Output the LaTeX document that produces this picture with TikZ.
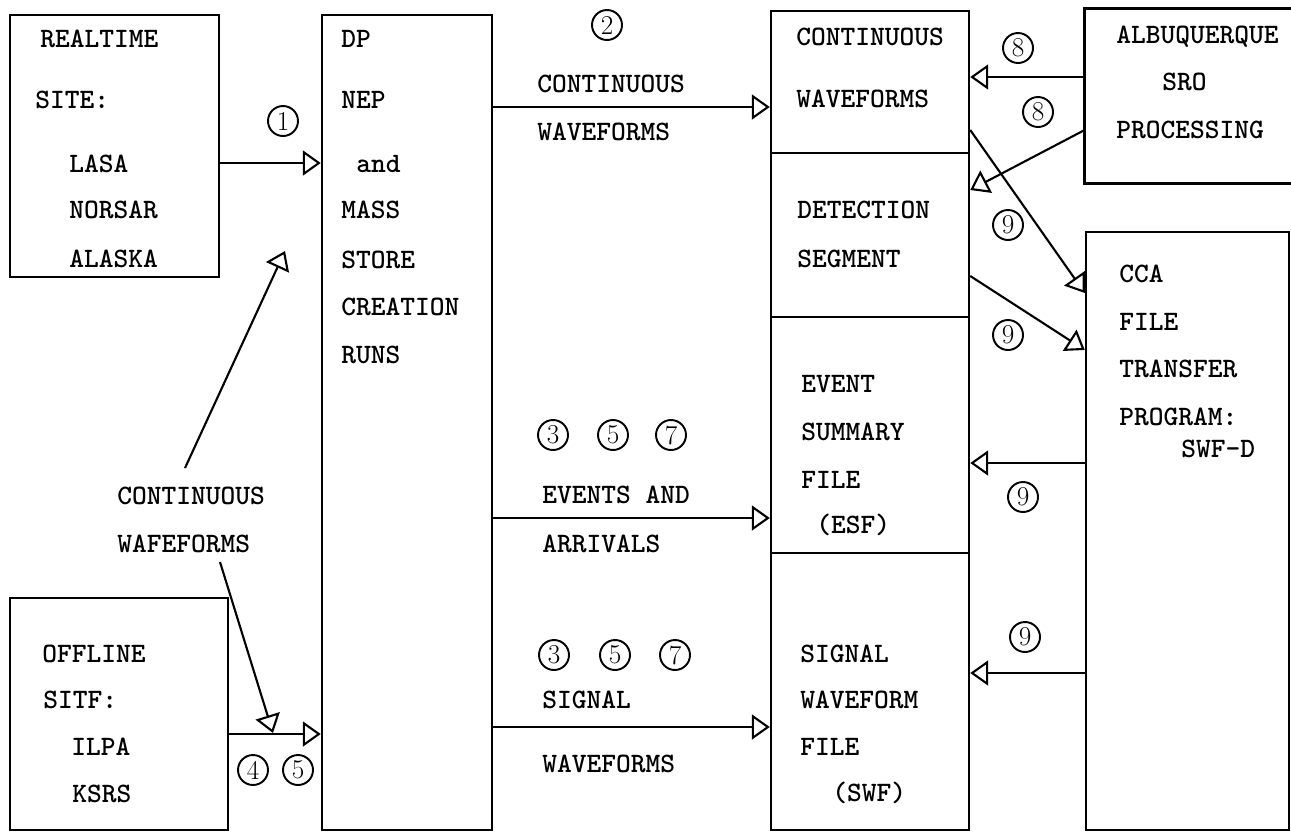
\documentclass[tikz,border=0pt]{standalone}
\usepackage{fontspec}
\usetikzlibrary{arrows.meta,fit}
\newcommand\mylblfont{\ttfamily\bfseries\fontsize{16}{19}\selectfont}
\newcommand\mynumfont{\rmfamily\fontsize{15.5}{17}\selectfont}
\tikzset{
  box/.style={draw, line width=1.4pt, inner sep=0pt},
  lbl/.style={anchor=base west, inner sep=0pt, font=\mylblfont},
  num/.style={circle, draw, line width=1.1pt, inner sep=0pt, minimum size=0.6cm, font=\mynumfont},
  arr/.style={line width=1.2pt, -{Triangle[open, length=0.36cm, width=0.5cm, line width=1.2pt]}},
  edge/.style={line width=1.4pt}
}
\begin{document}
\begin{tikzpicture}[x=0.02cm, y=-0.02cm]
\useasboundingbox (0,0) rectangle (1291,833);
% boxes
\node[box, fit={(10,15)(219,277)}] (rt) {};
\node[box, fit={(322,15)(492,830)}] (dp) {};
\node[box, fit={(771,11)(969,153)}] (cw) {};
\node[box, fit={(771,153)(969,317)}] (ds) {};
\node[box, fit={(771,317)(969,553)}] (esf) {};
\node[box, fit={(771,553)(969,830)}] (swf) {};
\node[box, fit={(1086,232)(1289,830)}] (cca) {};
\node[box, fit={(10,598)(228,830)}] (off) {};
\node[inner sep=0pt, fit={(1085,9)(1291,183)}] (alb) {};
\draw[edge] (alb.north east) -- (alb.north west) -- (alb.south west) -- (alb.south east);
% texts: realtime
\node[lbl] (t1) at (40,47) {\addfontfeature{LetterSpace=15}REALTIME};
\node[lbl] (t2) at (35,108) {SITE:};
\node[lbl] (t3) at (69,172) {LASA};
\node[lbl] (t4) at (69,218) {NORSAR};
\node[lbl] (t5) at (69,267) {ALASKA};
% dp
\node[lbl] (t6) at (341,47) {DP};
\node[lbl] (t7) at (341,108) {NEP};
\node[lbl] (t8) at (356,172) {and};
\node[lbl] (t9) at (341,218) {MASS};
\node[lbl] (t10) at (341,268) {STORE};
\node[lbl] (t11) at (341,315) {CREATION};
\node[lbl] (t12) at (341,363) {RUNS};
% continuous waveforms label
\node[lbl] (t13) at (537,92) {CONTINUOUS};
\node[lbl] (t14) at (537,140) {WAVEFORMS};
% centre column
\node[lbl] (t15) at (796,45) {CONTINUOUS};
\node[lbl] (t16) at (796,107) {WAVEFORMS};
\node[lbl] (t17) at (797,218) {DETECTION};
\node[lbl] (t18) at (797,267) {SEGMENT};
\node[lbl] (t19) at (801,392) {EVENT};
\node[lbl] (t20) at (801,440) {SUMMARY};
\node[lbl] (t21) at (801,488) {FILE};
\node[lbl] (t22) at (816,533) {(ESF)};
\node[lbl] (t23) at (800,662) {SIGNAL};
\node[lbl] (t24) at (800,708) {WAVEFORM};
\node[lbl] (t25) at (800,755) {FILE};
\node[lbl] (t26) at (832,801) {(SWF)};
% albuquerque
\node[lbl] (t27) at (1116,43) {ALBUQUERQUE};
\node[lbl] (t28) at (1162,90) {SRO};
\node[lbl] (t29) at (1116,138) {PROCESSING};
% cca
\node[lbl] (t30) at (1119,282) {CCA};
\node[lbl] (t31) at (1119,330) {FILE};
\node[lbl] (t32) at (1119,377) {TRANSFER};
\node[lbl] (t33) at (1119,425) {PROGRAM:};
\node[lbl] (t34) at (1181,457) {SWF-D};
% middle labels
\node[lbl] (t35) at (542,503) {EVENTS AND};
\node[lbl] (t36) at (542,552) {ARRIVALS};
\node[lbl] (t37) at (542,708) {SIGNAL};
\node[lbl] (t38) at (542,772) {WAVEFORMS};
% offline
\node[lbl] (t39) at (42,662) {OFFLINE};
\node[lbl] (t40) at (43,708) {SITF:};
\node[lbl] (t41) at (71,755) {ILPA};
\node[lbl] (t42) at (72,802) {KSRS};
\node[lbl] (t43) at (117,504) {CONTINUOUS};
\node[lbl] (t44) at (117,552) {WAFEFORMS};
% circled numbers
\node[num] (c1) at (283,121) {1};
\node[num] (c2) at (607,25) {2};
\node[num] (c3a) at (553,435) {3};
\node[num] (c5a) at (613,435) {5};
\node[num] (c7a) at (671,435) {7};
\node[num] (c3b) at (554,655) {3};
\node[num] (c5b) at (615,655) {5};
\node[num] (c7b) at (675,655) {7};
\node[num] (c4) at (253,770) {4};
\node[num] (c5c) at (298,770) {5};
\node[num] (c8a) at (1018,48) {8};
\node[num] (c8b) at (1038,112) {8};
\node[num] (c9a) at (1008,225) {9};
\node[num] (c9b) at (1008,335) {9};
\node[num] (c9c) at (1023,497) {9};
\node[num] (c9d) at (1025,637) {9};
% connectors
\draw[arr] (rt.east |- 0,163) -- (dp.west |- 0,163);
\draw[arr] (dp.east |- 0,107) -- (cw.west |- 0,107);
\draw[arr] (dp.east |- 0,518) -- (esf.west |- 0,518);
\draw[arr] (dp.east |- 0,727) -- (swf.west |- 0,727);
\draw[arr] (off.east |- 0,734) -- (dp.west |- 0,734);
\draw[arr] (alb.west |- 0,77) -- (cw.east |- 0,77);
\draw[arr] (alb.west |- 0,130) -- (ds.east |- 0,190);
\draw[arr] (cw.east |- 0,130) -- (cca.west |- 0,293);
\draw[arr] (ds.east |- 0,276) -- (cca.west |- 0,350);
\draw[arr] (cca.west |- 0,463) -- (esf.east |- 0,463);
\draw[arr] (cca.west |- 0,673) -- (swf.east |- 0,673);
\coordinate (ua) at (185,468);
\coordinate (ub) at (285,251);
\draw[arr] (ua) -- (ub);
\coordinate (da) at (220,562);
\coordinate (db) at (273,733);
\draw[arr] (da) -- (db);
\end{tikzpicture}
\end{document}
